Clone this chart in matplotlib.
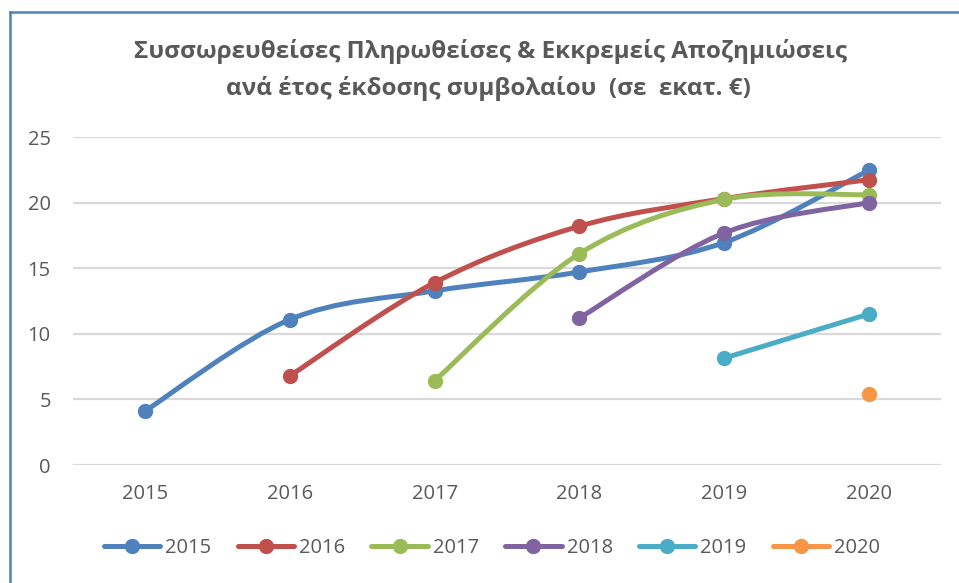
import numpy as np
import matplotlib
matplotlib.use('Agg')
import matplotlib.pyplot as plt
from matplotlib.path import Path
from matplotlib.patches import PathPatch
from matplotlib.lines import Line2D

# Dados
anos = ['2015', '2016', '2017', '2018', '2019', '2020']
s2015 = [4.13, 11.09, 13.27, 14.71, 16.95, 22.45]
s2016 = [6.80, 13.90, 18.20, 20.30, 21.74]
s2017 = [6.42, 16.10, 20.24, 20.60]
s2018 = [11.20, 17.68, 20.00]
s2019 = [8.14, 11.50]
s2020 = [5.43]

series = [('2015', s2015, '#4F81BD'),
          ('2016', s2016, '#C0504D'),
          ('2017', s2017, '#9BBB59'),
          ('2018', s2018, '#8064A2'),
          ('2019', s2019, '#4BACC6'),
          ('2020', s2020, '#F79646')]

plt.rcParams['font.family'] = ['Open Sans', 'DejaVu Sans']
cinza = '#595959'


def caminho_suave(x, y):
    # curva de Bezier no estilo do Excel (Catmull-Rom)
    pts = np.column_stack([x, y]).astype(float)
    n = len(pts)
    verts = [pts[0]]
    codes = [Path.MOVETO]
    for i in range(n - 1):
        p0 = pts[max(i - 1, 0)]
        p1 = pts[i]
        p2 = pts[i + 1]
        p3 = pts[min(i + 2, n - 1)]
        c1 = p1 + (p2 - p0) / 6.0
        c2 = p2 - (p3 - p1) / 6.0
        verts += [c1, c2, p2]
        codes += [Path.CURVE4] * 3
    return Path(verts, codes)


fig = plt.figure(figsize=(9.59, 5.83), dpi=100)
ax = fig.add_axes([0.0761, 0.2024, 0.905, 0.5626])

handles = []
for nome, valores, cor in series:
    x = np.arange(len(anos) - len(valores), len(anos))
    if len(valores) > 1:
        patch = PathPatch(caminho_suave(x, valores), facecolor='none', edgecolor=cor,
                          lw=3.6, capstyle='round', joinstyle='round', zorder=3)
        ax.add_patch(patch)
    ax.plot(x, valores, linestyle='none', marker='o', markersize=10, color=cor, zorder=4)
    handles.append(Line2D([], [], color=cor, lw=3.6, marker='o', markersize=10,
                          solid_capstyle='round'))

ax.set_xlim(-0.5, 5.5)
ax.set_ylim(0, 25)
ax.set_xticks(range(len(anos)))
ax.set_xticklabels(anos)
ax.set_yticks([0, 5, 10, 15, 20, 25])
ax.grid(axis='y', color='#D9D9D9', lw=1.6, zorder=0)
ax.set_axisbelow(True)
for lado in ax.spines.values():
    lado.set_visible(False)
ax.tick_params(length=0, labelsize=14.5, colors=cinza)
ax.tick_params(axis='x', pad=14)
ax.tick_params(axis='y', pad=16)

fig.text(0.511, 0.912, 'Συσσωρευθείσες Πληρωθείσες & Εκκρεμείς Αποζημιώσεις',
         ha='center', va='center', fontsize=17.5, fontweight='bold', color=cinza)
fig.text(0.509, 0.848, 'ανά έτος έκδοσης συμβολαίου  (σε  εκατ. €)',
         ha='center', va='center', fontsize=17.5, fontweight='bold', color=cinza)

fig.legend(handles, anos, loc='center', bbox_to_anchor=(0.513, 0.06), ncol=6,
           frameon=False, fontsize=14.5, labelcolor=cinza, handlelength=2.8,
           handletextpad=0.25, columnspacing=1.3)

# moldura azul (esquerda e topo)
fig.add_artist(Line2D([9.5 / 959, 9.5 / 959], [0, 1 - 11.5 / 583], color='#4F81BD', lw=1.8))
fig.add_artist(Line2D([9.5 / 959, 1], [1 - 11.5 / 583, 1 - 11.5 / 583], color='#4F81BD', lw=1.8))

fig.savefig('out.png', dpi=100)
